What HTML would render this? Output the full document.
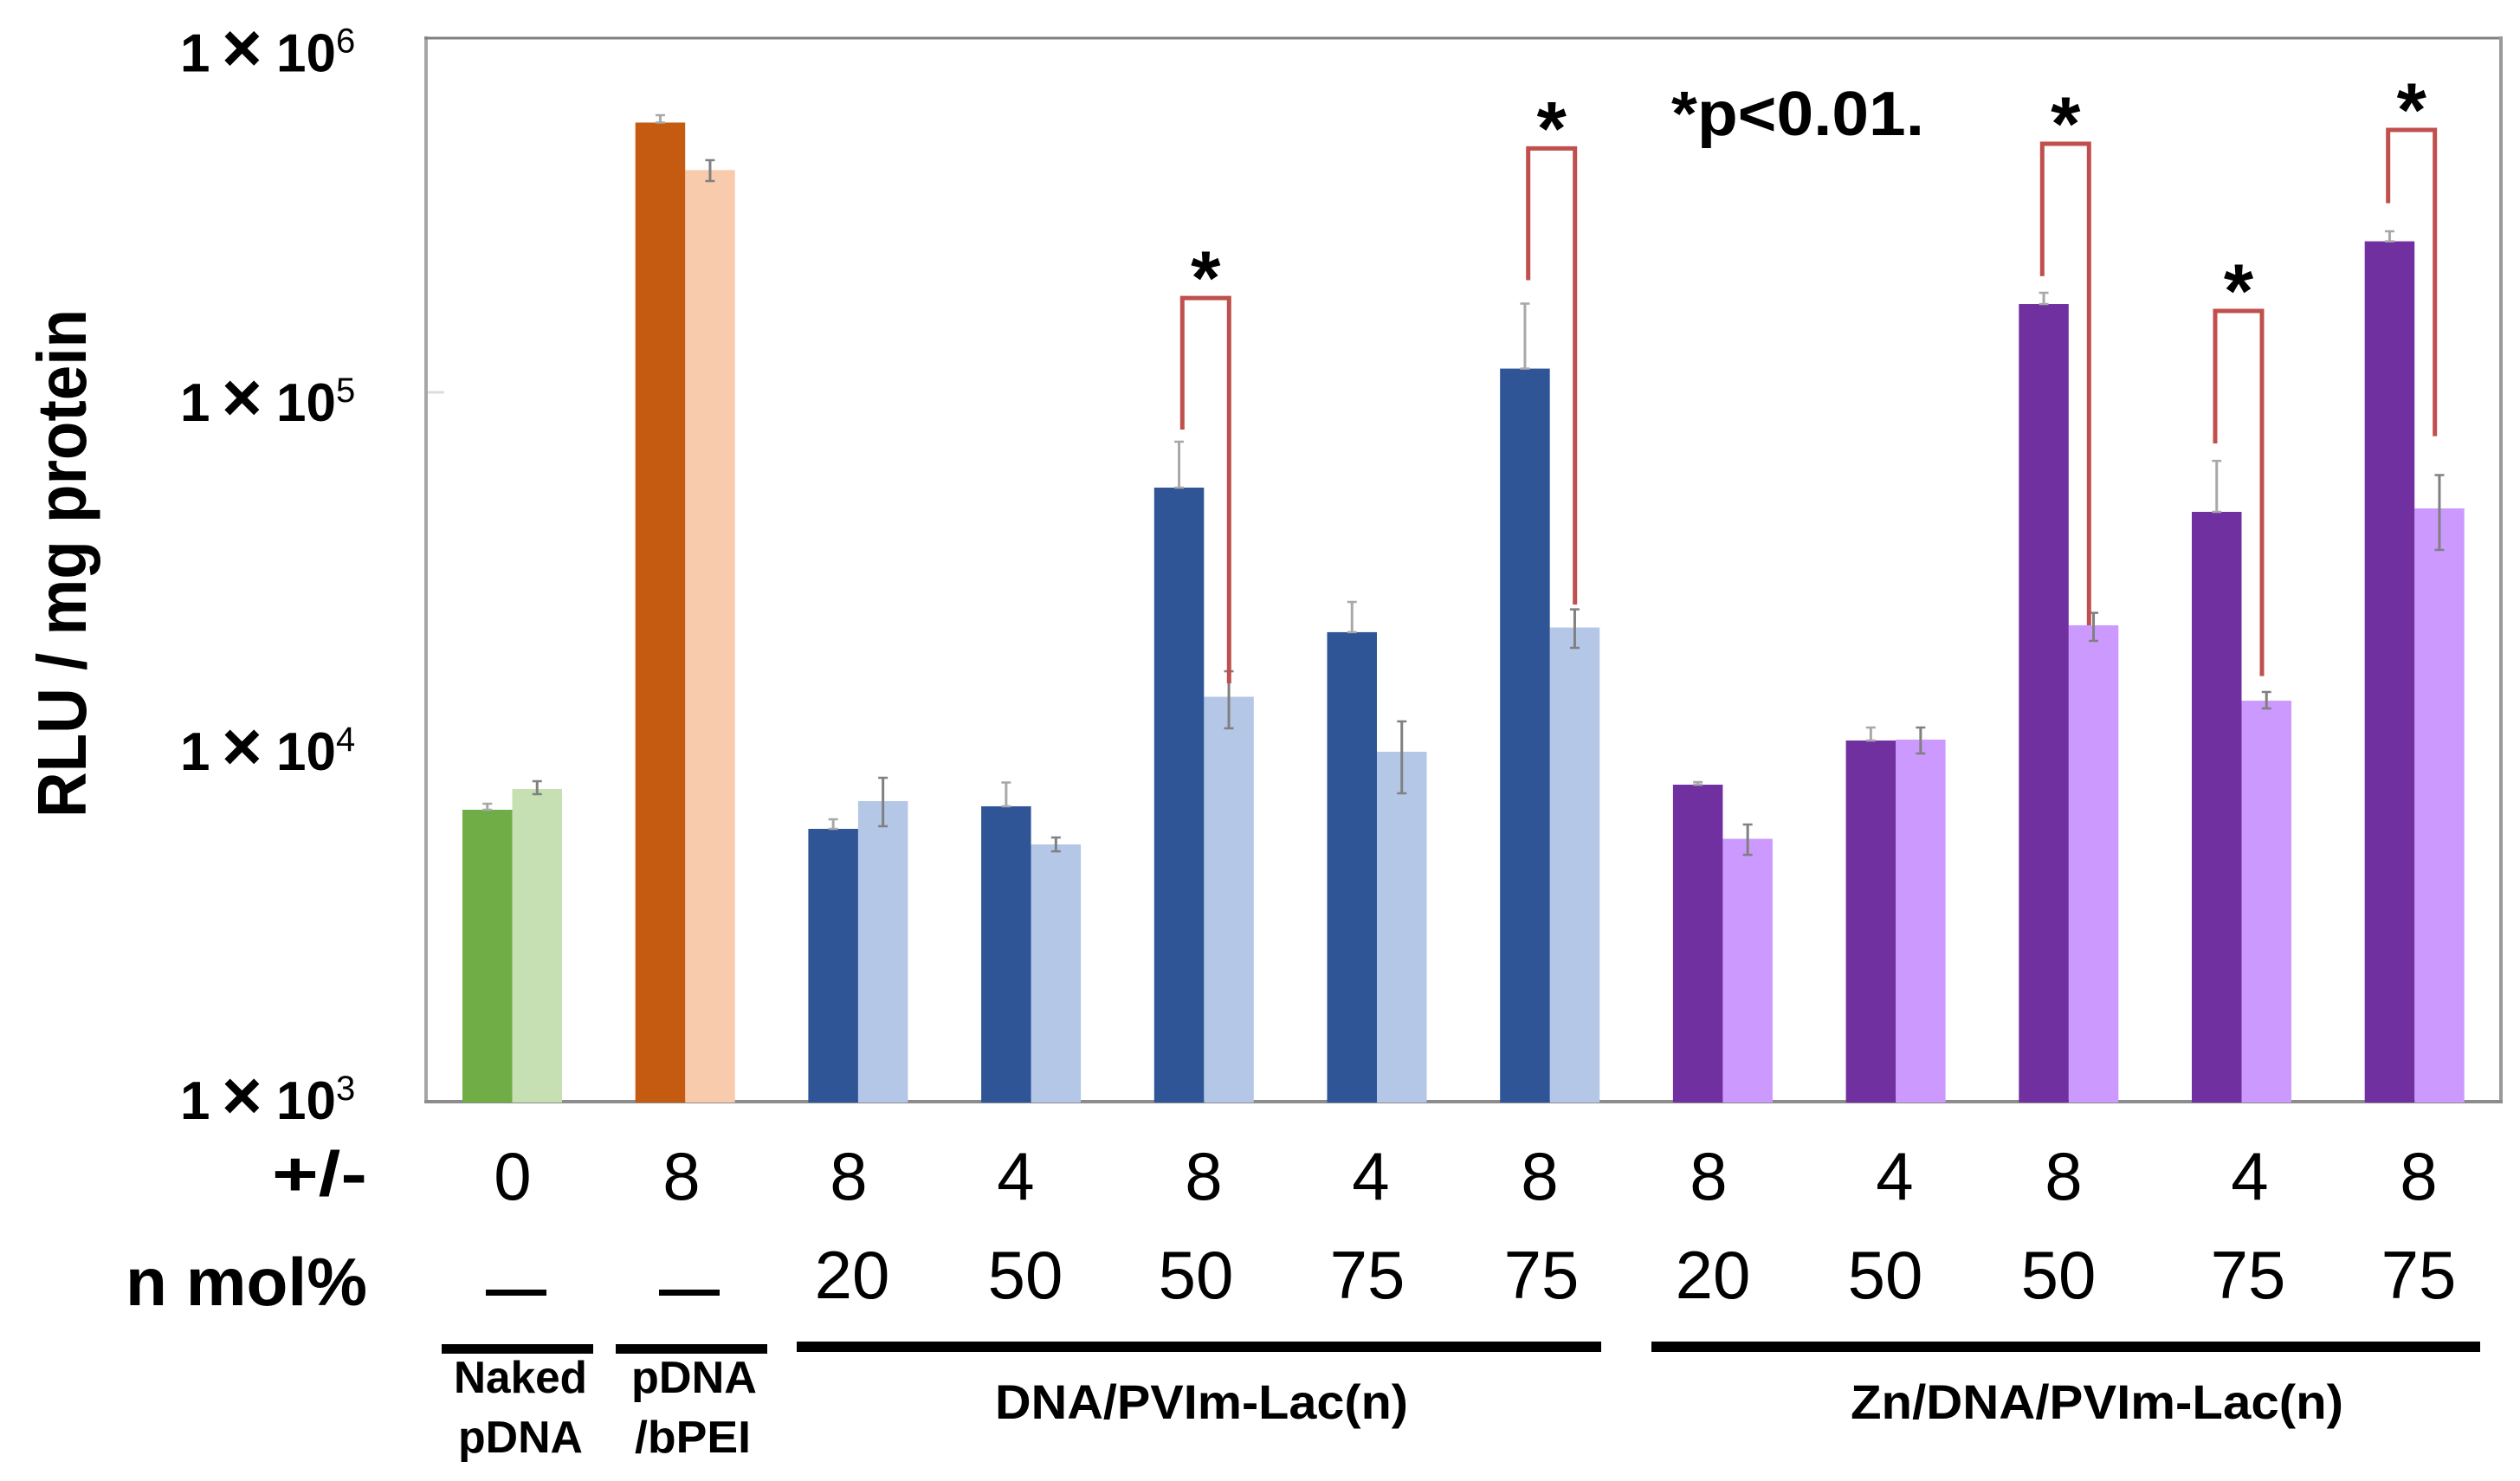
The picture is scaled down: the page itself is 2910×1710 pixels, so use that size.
<!DOCTYPE html>
<html lang="en">
<head>
<meta charset="utf-8">
<title>RLU per mg protein bar chart</title>
<style>
html,body{margin:0;padding:0;background:#fff;}
svg{display:block;}
text{font-family:"Liberation Sans",sans-serif;fill:#000;}
.b{font-weight:bold;}
.num{font-size:78px;}
.tick{font-size:62px;font-weight:bold;}
.exp{font-size:40px;font-weight:normal;}
.times{font-size:80px;}
</style>
</head>
<body>
<svg id="chart" xmlns="http://www.w3.org/2000/svg" width="2910" height="1710" viewBox="0 0 2910 1710">
  <rect x="0" y="0" width="2910" height="1710" fill="#ffffff"/>

  <g id="frame">
    <line x1="492" y1="42" x2="492" y2="1274" stroke="#a6a6a6" stroke-width="4"/>
    <line x1="490" y1="44" x2="2889" y2="44" stroke="#808080" stroke-width="3"/>
    <line x1="2888" y1="42" x2="2888" y2="1274" stroke="#9a9a9a" stroke-width="4"/>
    <line x1="490" y1="1272" x2="2890" y2="1272" stroke="#8c8c8c" stroke-width="4"/>
    <line x1="494" y1="453" x2="513" y2="453" stroke="#dddddd" stroke-width="3"/>
  </g>

  <g id="marks"></g>
  <g id="brackets"></g>

  <text class="b" transform="translate(99,944) rotate(-90)" font-size="80" textLength="587" lengthAdjust="spacingAndGlyphs">RLU / mg protein</text>

  <g>
    <text class="tick" y="82.6"><tspan x="208">1</tspan><tspan class="times" x="256">×</tspan><tspan x="319">10</tspan><tspan class="exp" x="388" dy="-22">6</tspan></text>
    <text class="tick" y="486"><tspan x="208">1</tspan><tspan class="times" x="256">×</tspan><tspan x="319">10</tspan><tspan class="exp" x="388" dy="-22">5</tspan></text>
    <text class="tick" y="889"><tspan x="208">1</tspan><tspan class="times" x="256">×</tspan><tspan x="319">10</tspan><tspan class="exp" x="388" dy="-22">4</tspan></text>
    <text class="tick" y="1292"><tspan x="208">1</tspan><tspan class="times" x="256">×</tspan><tspan x="319">10</tspan><tspan class="exp" x="388" dy="-22">3</tspan></text>
  </g>

  <text class="b" x="1930" y="156" font-size="72" textLength="292" lengthAdjust="spacingAndGlyphs">*p&lt;0.01.</text>

  <text class="b" x="314" y="1380" font-size="72" textLength="110" lengthAdjust="spacingAndGlyphs">+/-</text>
  <text class="b" x="145" y="1507" font-size="78" textLength="279" lengthAdjust="spacingAndGlyphs">n mol%</text>

  <g class="num" text-anchor="middle">
    <text x="592" y="1385">0</text>
    <text x="787" y="1385">8</text>
    <text x="980" y="1385">8</text>
    <text x="1173" y="1385">4</text>
    <text x="1390" y="1385">8</text>
    <text x="1583" y="1385">4</text>
    <text x="1778" y="1385">8</text>
    <text x="1973" y="1385">8</text>
    <text x="2188" y="1385">4</text>
    <text x="2383" y="1385">8</text>
    <text x="2598" y="1385">4</text>
    <text x="2793" y="1385">8</text>
  </g>

  <g class="num" text-anchor="middle">
    <rect x="561" y="1489" width="70" height="7" fill="#000"/>
    <rect x="761" y="1489" width="70" height="7" fill="#000"/>
    <text x="984" y="1499">20</text>
    <text x="1184" y="1499">50</text>
    <text x="1381" y="1499">50</text>
    <text x="1579" y="1499">75</text>
    <text x="1780" y="1499">75</text>
    <text x="1978" y="1499">20</text>
    <text x="2177" y="1499">50</text>
    <text x="2377" y="1499">50</text>
    <text x="2596" y="1499">75</text>
    <text x="2793" y="1499">75</text>
  </g>

  <g>
    <rect x="510" y="1552" width="175" height="11" fill="#000"/>
    <rect x="711" y="1552" width="175" height="11" fill="#000"/>
    <rect x="920" y="1549" width="929" height="12" fill="#000"/>
    <rect x="1907" y="1549" width="957" height="12" fill="#000"/>
  </g>

  <g class="b">
    <text x="524" y="1608" font-size="52" textLength="154" lengthAdjust="spacingAndGlyphs">Naked</text>
    <text x="529" y="1677" font-size="52" textLength="144" lengthAdjust="spacingAndGlyphs">pDNA</text>
    <text x="729" y="1608" font-size="52" textLength="145" lengthAdjust="spacingAndGlyphs">pDNA</text>
    <text x="733" y="1677" font-size="52" textLength="134" lengthAdjust="spacingAndGlyphs">/bPEI</text>
    <text x="1149" y="1638" font-size="56" textLength="477" lengthAdjust="spacingAndGlyphs">DNA/PVIm-Lac(n)</text>
    <text x="2137" y="1638" font-size="56" textLength="569" lengthAdjust="spacingAndGlyphs">Zn/DNA/PVIm-Lac(n)</text>
  </g>
</svg>

<script>
// Chart data (RLU / mg protein)
const categories = ['naked', 'bpei', 'dna-20', 'dna-50a', 'dna-50b', 'dna-75a', 'dna-75b', 'zn-20', 'zn-50a', 'zn-50b', 'zn-75a', 'zn-75b'];
const darkValues = [6658, 577900, 5882, 6810, 53960, 21100, 116900, 7836, 10440, 177800, 46100, 267200];
const lightValues = [7619, 424400, 7043, 5316, 13870, 9705, 21750, 5513, 10500, 22060, 13520, 47150];
const darkUpper = [6925, 606200, 6258, 7948, 72710, 25680, 178300, 7970, 11360, 191300, 64200, 285200];
const lightUpper = [8015, 452600, 8196, 5561, 16370, 11820, 24470, 6050, 11360, 23920, 14310, 58540];
const lightLower = [7368, 395300, 5983, 5082, 11300, 7409, 19060, 4968, 9596, 19940, 12860, 36000];
const families = ['green', 'orange', 'blue', 'blue', 'blue', 'blue', 'blue', 'purple', 'purple', 'purple', 'purple', 'purple'];

// Significance brackets: category index and the value levels they reach
const bracketGroups = [4, 6, 9, 10, 11];
const bracketTop = [184900, 488500, 503500, 170000, 551000];
const bracketLeftEnd = [78660, 207600, 213000, 71880, 342200];
const bracketRightEnd = [15140, 25250, 22060, 15870, 75370];

const palette = {
  green: ['#70ad47', '#c6e0b4'],
  orange: ['#c55a11', '#f8cbad'],
  blue: ['#2f5597', '#b4c7e7'],
  purple: ['#7030a0', '#cc99ff']
};

const NS = 'http://www.w3.org/2000/svg';
const plotBottom = 1272;
const decadeHeight = 409.33;
const groupStart = 534;
const groupStep = 199.7;
const barWidth = 57.5;

function yScale(v) {
  return plotBottom - (Math.log10(v) - 3) * decadeHeight;
}
function groupX(i) {
  return groupStart + groupStep * i;
}
function make(tag, parent) {
  const el = document.createElementNS(NS, tag);
  parent.appendChild(el);
  return el;
}
function setAll(el, props) {
  Object.keys(props).forEach(function (k) { el.setAttribute(k, props[k]); });
}
function drawBar(parent, x, value, fill, name) {
  const r = make('rect', parent);
  setAll(r, { x: x, y: yScale(value), width: barWidth, height: plotBottom - yScale(value) + 1, fill: fill });
  
  
}
function drawError(parent, cx, hi, lo, stroke, name) {
  const g = make('g', parent);
  
  
  const stem = make('line', g);
  setAll(stem, { x1: cx, x2: cx, y1: yScale(hi), y2: yScale(lo), stroke: stroke, 'stroke-width': 3 });
  
  
  [hi, lo].forEach(function (v) {
    const cap = make('line', g);
    setAll(cap, { x1: cx - 5.5, x2: cx + 5.5, y1: yScale(v), y2: yScale(v), stroke: stroke, 'stroke-width': 2.5 });
    
    
  });
}

const marks = document.getElementById('marks');
categories.forEach(function (cat, i) {
  const x = groupX(i);
  const colors = palette[families[i]];
  drawBar(marks, x + barWidth, lightValues[i], colors[1], 'bar-light-' + cat);
  drawError(marks, x + barWidth * 1.5, lightUpper[i], lightLower[i], '#808080', 'error-bar-light-' + cat);
  drawBar(marks, x, darkValues[i], colors[0], 'bar-dark-' + cat);
  drawError(marks, x + barWidth * 0.5, darkUpper[i], darkValues[i], '#a8a8a8', 'error-bar-dark-' + cat);
});

const bracketLayer = document.getElementById('brackets');
bracketGroups.forEach(function (groupIndex, i) {
  const offset = groupIndex < 7 ? 32.5 : 27;
  const xl = groupX(groupIndex) + offset;
  const xr = xl + 54;
  const top = yScale(bracketTop[i]);
  const path = make('path', bracketLayer);
  setAll(path, {
    d: 'M' + xl + ' ' + yScale(bracketLeftEnd[i]) + 'V' + top + 'H' + xr + 'V' + yScale(bracketRightEnd[i]),
    fill: 'none', stroke: '#c0504d', 'stroke-width': 5
  });
  
  
  const star = make('text', bracketLayer);
  setAll(star, { x: (xl + xr) / 2, y: top + 7, 'text-anchor': 'middle', 'font-size': 88, 'font-weight': 'bold' });
  star.textContent = '*';
  
  
});
</script>
</body>
</html>
